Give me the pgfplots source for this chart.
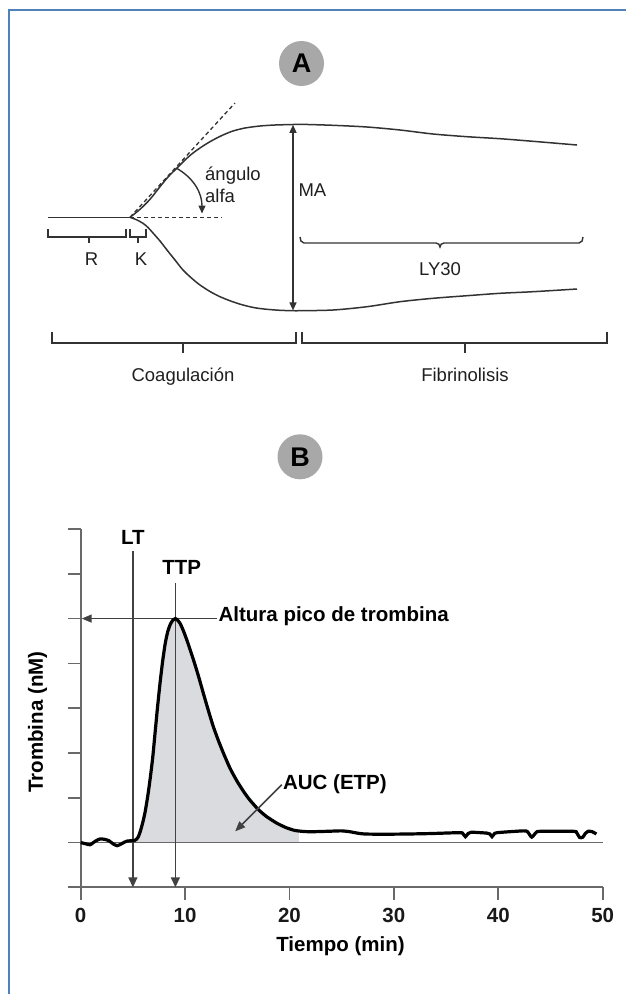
\documentclass[border=0pt]{standalone}
\usepackage{fontspec}
\setmainfont{Liberation Sans}
\usepackage{pgfplots}
\pgfplotsset{compat=1.18}
\usetikzlibrary{arrows.meta}
\definecolor{frameblue}{RGB}{79,129,189}
\definecolor{badge}{RGB}{168,168,168}
\definecolor{axisgray}{RGB}{105,105,105}
\definecolor{linegray}{RGB}{65,65,65}
\definecolor{agray}{RGB}{50,50,50}
\definecolor{aucfill}{RGB}{217,219,222}
\newcommand{\fA}{\fontsize{18.5}{20}\selectfont}
\newcommand{\fB}{\fontsize{20.5}{23}\selectfont\bfseries}
\begin{document}
\begin{tikzpicture}
\useasboundingbox (0,0) rectangle (626pt,994pt);
% ---------------- overlay axis in pixel units (panel A and frame)
\begin{axis}[at={(0pt,0pt)}, anchor=south west, scale only axis,
  width=626pt, height=994pt, xmin=0, xmax=626, ymin=0, ymax=994,
  y dir=reverse, axis lines=none, clip=false]
% frame
\draw[frameblue, line width=1.8pt] (9,994) -- (9,10) -- (626,10);
% badges
\node[circle, fill=badge, minimum size=45pt, inner sep=0pt, font=\fontsize{27}{27}\selectfont\bfseries] at (301.5,63.5) {A};
\node[circle, fill=badge, minimum size=45pt, inner sep=0pt, font=\fontsize{27}{27}\selectfont\bfseries] at (300,456.8) {B};
% baseline
\addplot[agray, line width=1.5pt] coordinates {(48,217.3) (130,217.3)};
% upper curve
\addplot[agray, line width=1.5pt, smooth, tension=0.5] coordinates {
(130,217.3) (140,209.3) (150,199.3) (160,186.7) (168.3,176.7) (176.7,168.3)
(185,160) (193,153) (203,146) (213,140) (223,135) (233,131) (245,128)
(260,126) (275,125) (293,124.5) (300,124.3) (333,125.3) (367,127) (400,130)
(433,134) (467,136.7) (500,138.7) (533,141.3) (577,145)};
% lower curve
\addplot[agray, line width=1.5pt, smooth, tension=0.5] coordinates {
(130,217.3) (136,219.5) (143,223.3) (148,227.5) (153,233) (160,241) (167,250)
(175,260) (183,270) (192,278.5) (200,285) (210,291.5) (220,296.7) (232,301.5)
(243,305) (255,307.8) (267,309.3) (280,310.3) (293,310.7) (300,310.7)
(333,310) (367,306.7) (400,301.7) (433,298.3) (467,295.7) (500,293.3)
(533,291.7) (577,289)};
% dashed tangent and horizontal
\addplot[agray, line width=1.3pt, dash pattern=on 4pt off 3pt] coordinates {(130,217.3) (235,103)};
\addplot[agray, line width=1.3pt, dash pattern=on 4pt off 3pt] coordinates {(130,217.3) (222,217.3)};
% angle arrow
\draw[agray, line width=1.4pt, -{Triangle[length=8pt,width=7pt]}] (176.7,168.3) to[out=-30,in=90] (202,213.5);
% MA arrow
\draw[agray, line width=1.4pt, {Triangle[length=8pt,width=7pt]}-{Triangle[length=8pt,width=7pt]}] (293,124.8) -- (293,310.4);
% brackets
\draw[agray, line width=1.3pt] (48,229) -- (48,237) -- (126,237) -- (126,229);
\draw[agray, line width=1.3pt] (89,237) -- (89,243);
\draw[agray, line width=1.3pt] (130,229) -- (130,237) -- (146,237) -- (146,229);
\draw[agray, line width=1.3pt] (138,237) -- (138,243);
\draw[agray, line width=1.3pt] (52,332) -- (52,343) -- (296,343) -- (296,332);
\draw[agray, line width=1.3pt] (183,343) -- (183,353);
\draw[agray, line width=1.3pt] (302,332) -- (302,343) -- (607,343) -- (607,332);
\draw[agray, line width=1.3pt] (465,343) -- (465,353);
% LY30 brace
\draw[agray, line width=1.4pt] (300,237) to[out=-90,in=180] (304,243) -- (436,243)
  to[out=0,in=90] (440,247) to[out=90,in=180] (444,243) -- (579,243) to[out=0,in=-90] (583,237);
% texts panel A
\node[anchor=base west, inner sep=0pt, font=\fA, text=black!88] at (205,180) {ángulo};
\node[anchor=base west, inner sep=0pt, font=\fA, text=black!88] at (205,202.7) {alfa};
\node[anchor=base west, inner sep=0pt, font=\fA, text=black!88] at (298.3,196) {MA};
\node[anchor=base, inner sep=0pt, font=\fA, text=black!88] at (91.5,265) {R};
\node[anchor=base, inner sep=0pt, font=\fA, text=black!88] at (141,265) {K};
\node[anchor=base, inner sep=0pt, font=\fA, text=black!88] at (440,275) {LY30};
\node[anchor=base, inner sep=0pt, font=\fA, text=black!88] at (183,381.5) {Coagulación};
\node[anchor=base, inner sep=0pt, font=\fA, text=black!88] at (465,381.5) {Fibrinolisis};
\end{axis}
% ---------------- panel B
\begin{axis}[at={(80.7pt,106.7pt)}, anchor=south west, scale only axis,
  width=522pt, height=358.3pt, xmin=0, xmax=50, ymin=-1, ymax=7,
  clip=false,
  axis x line=bottom, axis y line=left,
  axis line style={-, draw=axisgray, line width=1.8pt},
  xtick={0,10,20,30,40,50}, xticklabels={0,10,20,30,40,50},
  ytick={-1,0,1,2,3,4,5,6,7}, yticklabels={},
  tick align=outside, major tick length=13pt,
  tick style={draw=axisgray, line width=1.7pt},
  xticklabel style={font=\fB, text=black!90, yshift=-4pt},
  xlabel={Tiempo (min)}, ylabel={Trombina (nM)},
  label style={font=\fB, text=black},
  xlabel style={at={(axis description cs:0.4977,0)}, anchor=base, yshift=-64.4pt, inner sep=0pt},
  ylabel style={at={(axis description cs:-0.0828,0.461)}, anchor=center, inner sep=0pt},
  ]
% AUC area
\addplot[fill=aucfill, draw=none] coordinates {
(5.2,0) (5.2,0.05) (5.5,0.12) (5.75,0.28) (6.0,0.5)
(6.2,0.72) (6.45,1.08) (6.65,1.42) (6.9,1.9) (7.12,2.44) (7.35,3.0) (7.6,3.56)
(7.85,4.05) (8.1,4.45) (8.35,4.72) (8.6,4.88) (8.85,4.97) (9.07,5.0) (9.3,4.96)
(9.55,4.88) (9.85,4.72) (10.2,4.5) (10.8,4.08) (11.3,3.7) (11.75,3.33) (12.2,2.97)
(12.7,2.59) (13.2,2.27) (13.7,1.98) (14.3,1.66) (14.95,1.38) (15.6,1.14) (16.2,0.95)
(17.0,0.74) (17.8,0.58) (18.8,0.43) (19.7,0.33) (20.5,0.27) (20.9,0.26) (20.9,0)};
\addplot[draw=axisgray, line width=1.6pt] coordinates {(0,0) (50,0)};
% vertical LT / TTP lines
\draw[linegray, line width=1.6pt, -{Triangle[length=10pt,width=9pt]}] (5.0,6.51) -- (5.0,-1);
\draw[linegray, line width=1.6pt, -{Triangle[length=10pt,width=9pt]}] (9.07,5.80) -- (9.07,-1);
% horizontal arrow to axis
\draw[linegray, line width=1.6pt, -{Triangle[length=10pt,width=8pt]}] (13.04,5) -- (0.1,5);
% curve on top
\addplot[black, line width=3.2pt, smooth, tension=0.4] coordinates {
(0,0) (0.5,-0.03) (0.9,-0.05) (1.4,0.03) (1.85,0.08) (2.3,0.07) (2.7,0.04) (3.1,-0.03)
(3.5,-0.07) (3.9,-0.03) (4.4,0.03) (5.2,0.05) (5.5,0.12) (5.75,0.28) (6.0,0.5)
(6.2,0.72) (6.45,1.08) (6.65,1.42) (6.9,1.9) (7.12,2.44) (7.35,3.0) (7.6,3.56)
(7.85,4.05) (8.1,4.45) (8.35,4.72) (8.6,4.88) (8.85,4.97) (9.07,5.0) (9.3,4.96)
(9.55,4.88) (9.85,4.72) (10.2,4.5) (10.8,4.08) (11.3,3.7) (11.75,3.33) (12.2,2.97)
(12.7,2.59) (13.2,2.27) (13.7,1.98) (14.3,1.66) (14.95,1.38) (15.6,1.14) (16.2,0.95)
(17.0,0.74) (17.8,0.58) (18.8,0.43) (19.7,0.33) (20.5,0.27) (21.2,0.25) (22,0.24)
(23.6,0.25) (25,0.26) (25.8,0.24) (26.5,0.21) (27.2,0.19) (29,0.185) (31.3,0.19)
(33.5,0.2) (36.3,0.22) (36.6,0.2) (36.85,0.13) (37.1,0.2) (37.4,0.23) (38.9,0.21)
(39.2,0.19) (39.4,0.13) (39.6,0.19) (39.9,0.22) (42.4,0.26) (42.8,0.24) (43.2,0.12)
(43.6,0.22) (44.0,0.25) (47.2,0.25) (47.5,0.22) (47.8,0.11) (48.1,0.12) (48.3,0.19)
(48.6,0.25) (49.0,0.24) (49.4,0.19)};
% AUC arrow
\draw[linegray, line width=1.6pt, -{Triangle[length=10pt,width=8pt]}] (19.27,1.29) -- (14.8,0.25);
% labels
\node[anchor=base, inner sep=0pt, font=\fB] at (5.0,6.645) {LT};
\node[anchor=base, inner sep=0pt, font=\fB] at (9.68,5.975) {TTP};
\node[anchor=base west, inner sep=0pt, font=\fB] at (13.19,4.93) {Altura pico de trombina};
\node[anchor=base west, inner sep=0pt, font=\fB] at (19.37,1.19) {AUC (ETP)};
\end{axis}
\end{tikzpicture}
\end{document}
